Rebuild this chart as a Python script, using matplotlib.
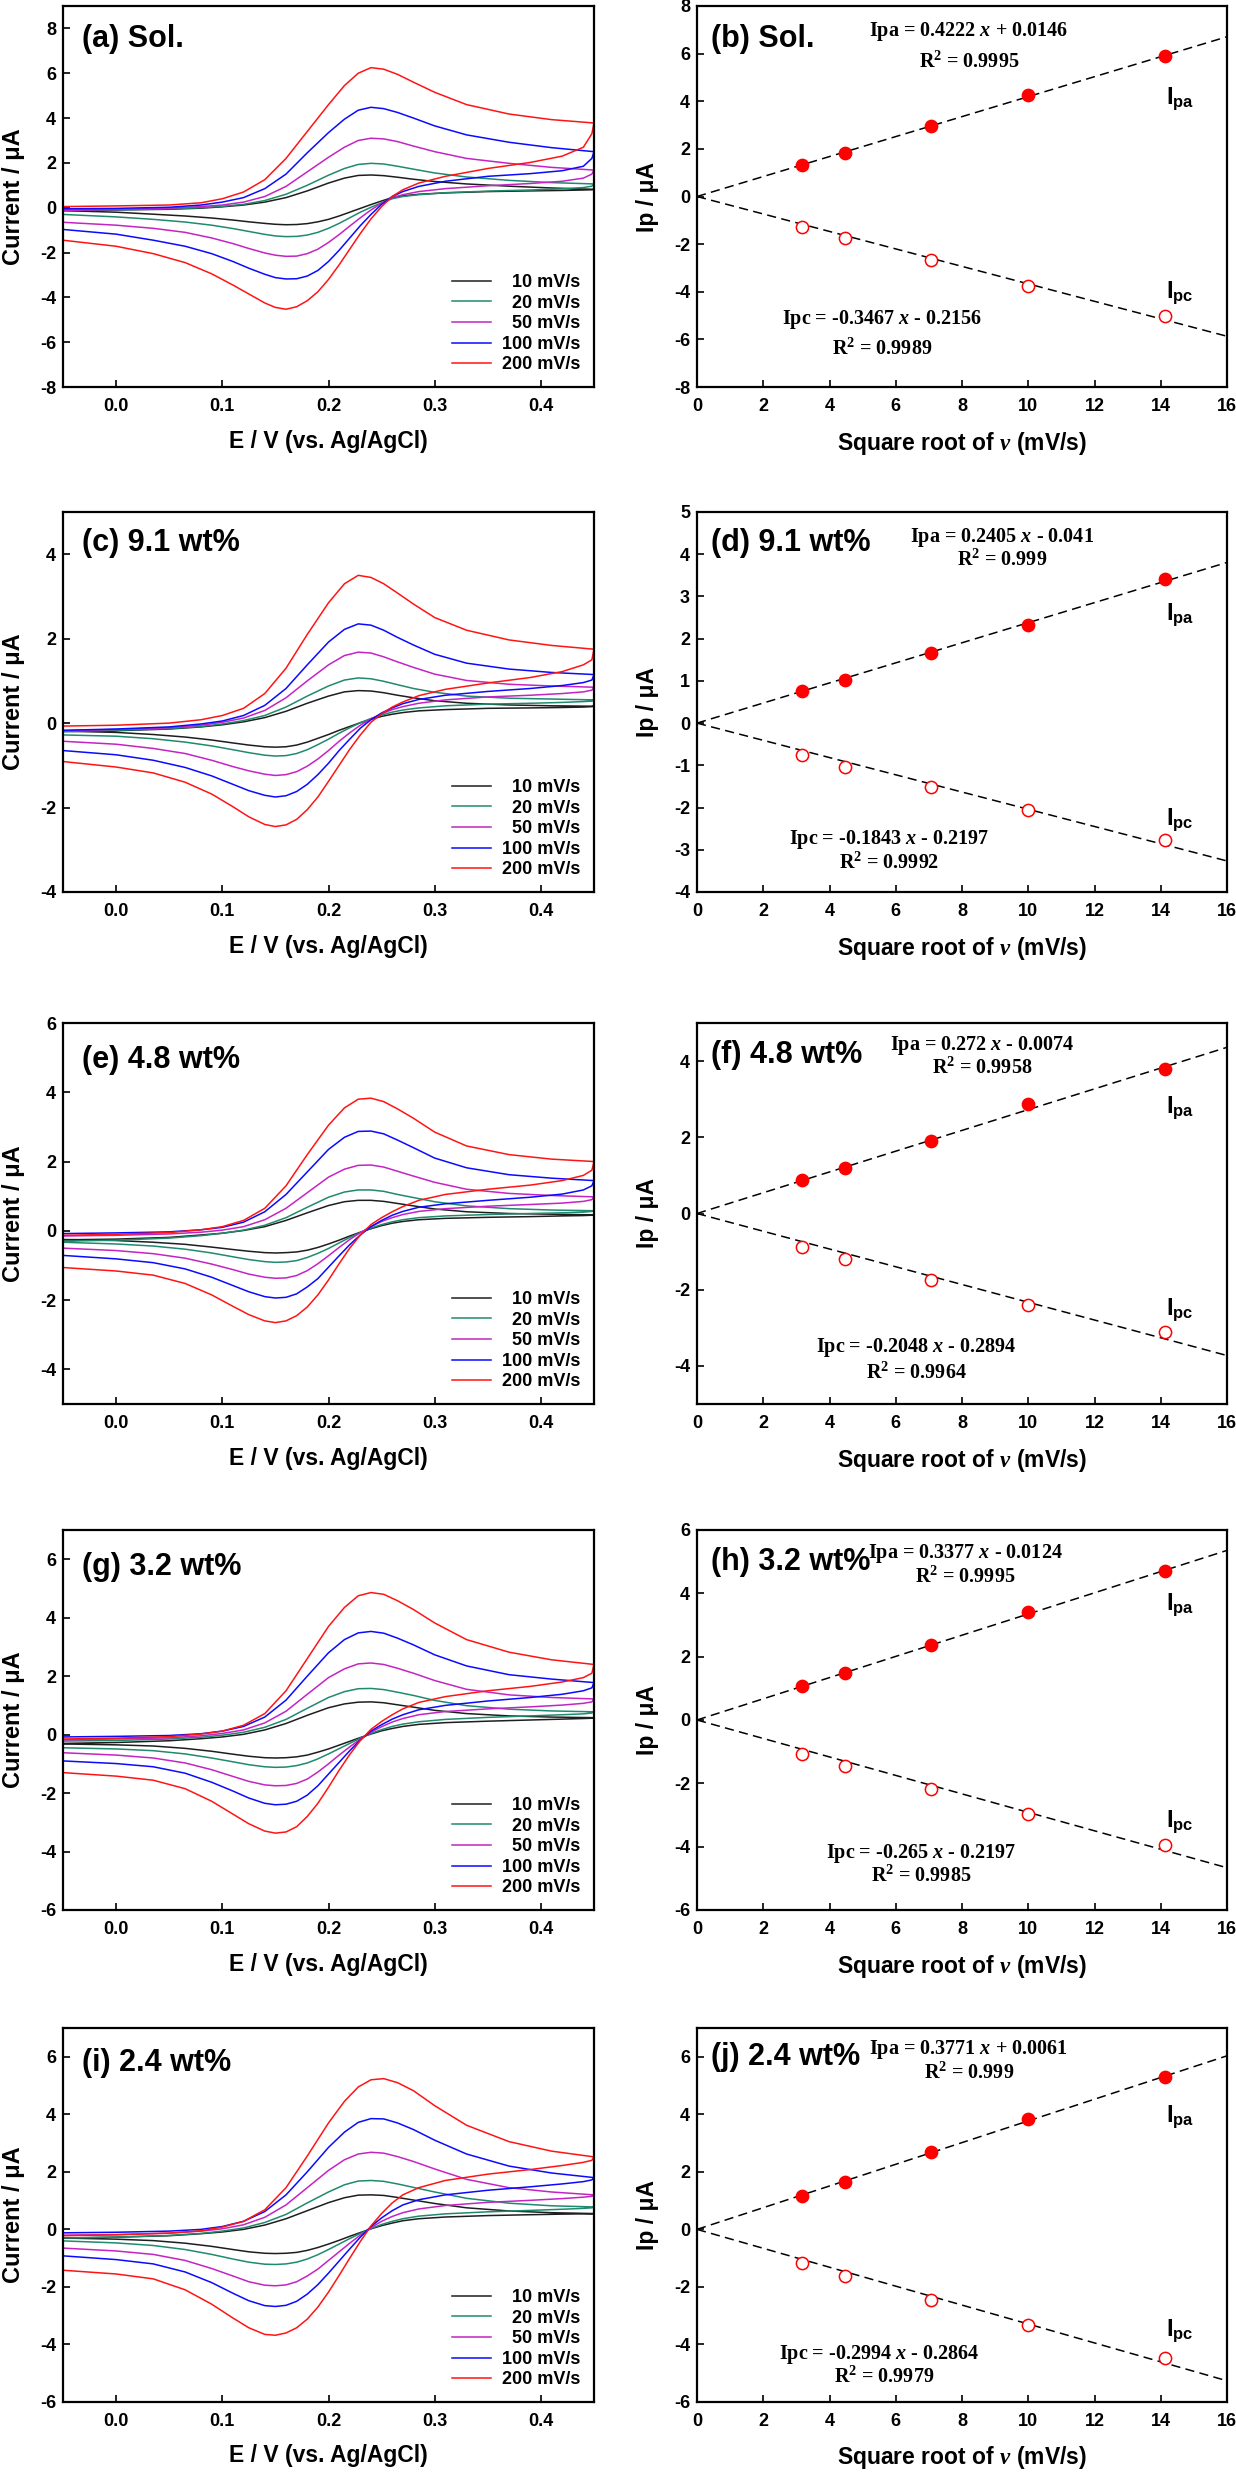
import matplotlib
matplotlib.use("Agg")
import matplotlib.pyplot as plt
from matplotlib.ticker import FormatStrFormatter
import numpy as np

plt.rcParams['font.family'] = ['Liberation Sans', 'DejaVu Sans']
plt.rcParams['font.weight'] = 'bold'
plt.rcParams['axes.unicode_minus'] = False
plt.rcParams['mathtext.fontset'] = 'custom'
plt.rcParams['mathtext.bf'] = 'Liberation Sans:bold'
plt.rcParams['mathtext.it'] = 'Liberation Serif:italic:bold'
plt.rcParams['mathtext.rm'] = 'Liberation Serif:bold'

# ---------------- data ----------------
RATES = [10, 20, 50, 100, 200]
RATE_LABELS = ["  10 mV/s", "  20 mV/s", "  50 mV/s", "100 mV/s", "200 mV/s"]
COLORS = ['#1e1e1e', '#1f8a6e', '#c424c4', '#0a0aff', '#ff1414']

# potentials of the forward (anodic) and reverse (cathodic) sweeps
E_FWD = [-0.05, 0.00, 0.05, 0.08, 0.10, 0.12, 0.14, 0.16, 0.18, 0.20, 0.215,
         0.228, 0.24, 0.252, 0.265, 0.28, 0.30, 0.33, 0.37, 0.41, 0.45]
E_REV = [0.45, 0.448, 0.44, 0.42, 0.39, 0.35, 0.31, 0.285, 0.27, 0.26, 0.25,
         0.24, 0.23, 0.22, 0.21, 0.20, 0.19, 0.18, 0.17, 0.16, 0.15, 0.14,
         0.125, 0.11, 0.09, 0.065, 0.035, 0.00, -0.05]

# (a) Sol.   rows: 10, 20, 50, 100, 200 mV/s
A_FWD = [
    [-0.12, -0.10, -0.07, -0.02, 0.04, 0.12, 0.25, 0.45, 0.75, 1.10, 1.32, 1.44, 1.46, 1.43, 1.36, 1.27, 1.17, 1.06, 0.96, 0.88, 0.82],
    [-0.12, -0.09, -0.05, 0.00, 0.06, 0.15, 0.32, 0.60, 1.00, 1.45, 1.75, 1.93, 1.98, 1.95, 1.85, 1.72, 1.55, 1.37, 1.22, 1.12, 1.06],
    [-0.12, -0.08, -0.02, 0.05, 0.12, 0.25, 0.50, 0.95, 1.60, 2.25, 2.70, 3.00, 3.10, 3.07, 2.95, 2.75, 2.50, 2.20, 1.98, 1.80, 1.68],
    [-0.05, -0.03, 0.02, 0.12, 0.25, 0.45, 0.85, 1.50, 2.45, 3.35, 3.95, 4.35, 4.48, 4.42, 4.25, 4.00, 3.65, 3.25, 2.92, 2.68, 2.50],
    [0.05, 0.08, 0.12, 0.22, 0.40, 0.70, 1.25, 2.20, 3.40, 4.60, 5.45, 6.00, 6.25, 6.18, 5.95, 5.60, 5.15, 4.60, 4.18, 3.93, 3.78],
]
A_REV = [
    [0.82, 0.80, 0.79, 0.77, 0.75, 0.72, 0.66, 0.60, 0.53, 0.45, 0.30, 0.14, -0.03, -0.20, -0.37, -0.52, -0.63, -0.71, -0.75, -0.76, -0.74, -0.70, -0.63, -0.55, -0.46, -0.37, -0.29, -0.20, -0.13],
    [1.06, 0.96, 0.90, 0.84, 0.79, 0.74, 0.67, 0.58, 0.50, 0.40, 0.22, 0.02, -0.20, -0.45, -0.70, -0.92, -1.10, -1.22, -1.28, -1.29, -1.26, -1.19, -1.06, -0.93, -0.78, -0.64, -0.52, -0.41, -0.30],
    [1.68, 1.50, 1.32, 1.18, 1.08, 0.98, 0.85, 0.72, 0.58, 0.45, 0.20, -0.10, -0.45, -0.82, -1.20, -1.55, -1.85, -2.05, -2.16, -2.17, -2.12, -2.02, -1.82, -1.60, -1.35, -1.10, -0.92, -0.78, -0.65],
    [2.50, 2.20, 1.85, 1.65, 1.52, 1.40, 1.18, 0.95, 0.72, 0.50, 0.15, -0.30, -0.80, -1.35, -1.90, -2.40, -2.80, -3.05, -3.17, -3.18, -3.12, -2.97, -2.70, -2.40, -2.05, -1.72, -1.45, -1.18, -0.97],
    [3.78, 3.30, 2.70, 2.30, 2.02, 1.75, 1.40, 1.10, 0.80, 0.50, 0.05, -0.50, -1.15, -1.85, -2.55, -3.20, -3.75, -4.15, -4.42, -4.53, -4.45, -4.25, -3.85, -3.45, -2.95, -2.45, -2.05, -1.72, -1.45],
]

# (c) 9.1 wt%
C_FWD = [
    [-0.20, -0.18, -0.14, -0.09, -0.04, 0.03, 0.13, 0.28, 0.47, 0.64, 0.74, 0.77, 0.76, 0.72, 0.66, 0.60, 0.53, 0.47, 0.43, 0.41, 0.40],
    [-0.20, -0.17, -0.13, -0.08, -0.02, 0.06, 0.18, 0.38, 0.64, 0.88, 1.02, 1.07, 1.05, 0.99, 0.91, 0.82, 0.73, 0.64, 0.59, 0.57, 0.55],
    [-0.18, -0.15, -0.11, -0.05, 0.02, 0.12, 0.30, 0.60, 1.00, 1.38, 1.60, 1.68, 1.66, 1.57, 1.45, 1.32, 1.16, 1.01, 0.92, 0.88, 0.85],
    [-0.17, -0.14, -0.09, -0.02, 0.05, 0.18, 0.42, 0.82, 1.38, 1.92, 2.22, 2.35, 2.32, 2.20, 2.03, 1.85, 1.63, 1.42, 1.28, 1.20, 1.15],
    [-0.07, -0.05, 0.00, 0.08, 0.18, 0.35, 0.70, 1.30, 2.10, 2.85, 3.30, 3.50, 3.45, 3.30, 3.08, 2.82, 2.50, 2.20, 1.97, 1.84, 1.75],
]
C_REV = [
    [0.40, 0.39, 0.38, 0.37, 0.36, 0.35, 0.32, 0.29, 0.25, 0.21, 0.16, 0.09, 0.01, -0.08, -0.17, -0.27, -0.36, -0.45, -0.52, -0.56, -0.57, -0.56, -0.52, -0.47, -0.40, -0.33, -0.27, -0.22, -0.19],
    [0.55, 0.52, 0.51, 0.49, 0.47, 0.45, 0.41, 0.36, 0.31, 0.26, 0.19, 0.11, 0.01, -0.11, -0.24, -0.38, -0.51, -0.63, -0.72, -0.77, -0.78, -0.76, -0.70, -0.63, -0.54, -0.45, -0.37, -0.31, -0.28],
    [0.85, 0.78, 0.74, 0.70, 0.66, 0.62, 0.55, 0.47, 0.39, 0.32, 0.22, 0.10, -0.05, -0.23, -0.43, -0.65, -0.85, -1.02, -1.15, -1.22, -1.24, -1.21, -1.13, -1.03, -0.88, -0.72, -0.60, -0.50, -0.43],
    [1.15, 1.02, 0.96, 0.89, 0.82, 0.75, 0.66, 0.56, 0.46, 0.36, 0.24, 0.08, -0.12, -0.38, -0.65, -0.95, -1.22, -1.45, -1.62, -1.72, -1.75, -1.71, -1.60, -1.45, -1.25, -1.05, -0.88, -0.75, -0.65],
    [1.75, 1.50, 1.38, 1.22, 1.08, 0.95, 0.80, 0.65, 0.50, 0.38, 0.22, 0.02, -0.28, -0.62, -1.00, -1.38, -1.75, -2.05, -2.28, -2.41, -2.45, -2.40, -2.22, -1.98, -1.68, -1.40, -1.18, -1.04, -0.91],
]

# (e) 4.8 wt%
E48_FWD = [
    [-0.26, -0.24, -0.19, -0.12, -0.07, 0.01, 0.12, 0.30, 0.52, 0.73, 0.84, 0.88, 0.88, 0.85, 0.79, 0.72, 0.63, 0.55, 0.50, 0.48, 0.46],
    [-0.30, -0.27, -0.21, -0.14, -0.07, 0.02, 0.16, 0.38, 0.68, 0.97, 1.12, 1.18, 1.18, 1.14, 1.05, 0.96, 0.84, 0.72, 0.64, 0.60, 0.58],
    [-0.15, -0.13, -0.09, -0.04, 0.02, 0.12, 0.32, 0.65, 1.10, 1.55, 1.78, 1.89, 1.90, 1.84, 1.72, 1.58, 1.40, 1.20, 1.08, 1.02, 0.98],
    [-0.08, -0.06, -0.03, 0.03, 0.10, 0.25, 0.55, 1.05, 1.70, 2.35, 2.70, 2.87, 2.88, 2.80, 2.62, 2.40, 2.10, 1.82, 1.62, 1.52, 1.45],
    [-0.13, -0.10, -0.05, 0.03, 0.12, 0.30, 0.65, 1.30, 2.20, 3.05, 3.55, 3.80, 3.83, 3.73, 3.52, 3.25, 2.85, 2.45, 2.20, 2.07, 2.00],
]
E48_REV = [
    [0.46, 0.45, 0.44, 0.43, 0.41, 0.39, 0.36, 0.32, 0.27, 0.22, 0.15, 0.06, -0.04, -0.15, -0.27, -0.38, -0.48, -0.56, -0.61, -0.63, -0.64, -0.63, -0.59, -0.54, -0.47, -0.39, -0.33, -0.28, -0.25],
    [0.58, 0.56, 0.54, 0.52, 0.50, 0.47, 0.43, 0.38, 0.32, 0.26, 0.18, 0.08, -0.05, -0.19, -0.35, -0.51, -0.65, -0.77, -0.86, -0.90, -0.91, -0.89, -0.83, -0.75, -0.64, -0.53, -0.44, -0.38, -0.33],
    [0.98, 0.90, 0.85, 0.80, 0.76, 0.71, 0.64, 0.56, 0.47, 0.38, 0.27, 0.12, -0.05, -0.25, -0.48, -0.72, -0.95, -1.15, -1.29, -1.36, -1.37, -1.34, -1.25, -1.12, -0.96, -0.79, -0.66, -0.57, -0.50],
    [1.45, 1.30, 1.18, 1.06, 0.97, 0.88, 0.78, 0.68, 0.56, 0.45, 0.30, 0.12, -0.12, -0.40, -0.72, -1.05, -1.38, -1.62, -1.82, -1.92, -1.94, -1.90, -1.76, -1.58, -1.34, -1.10, -0.92, -0.81, -0.71],
    [2.00, 1.75, 1.60, 1.45, 1.32, 1.20, 1.05, 0.88, 0.70, 0.55, 0.38, 0.18, -0.12, -0.50, -0.95, -1.42, -1.85, -2.20, -2.45, -2.60, -2.65, -2.60, -2.42, -2.18, -1.85, -1.52, -1.28, -1.16, -1.06],
]

# (g) 3.2 wt%
G_FWD = [
    [-0.30, -0.27, -0.21, -0.14, -0.08, 0.01, 0.16, 0.38, 0.66, 0.92, 1.05, 1.11, 1.12, 1.09, 1.02, 0.94, 0.83, 0.72, 0.64, 0.60, 0.58],
    [-0.22, -0.20, -0.15, -0.09, -0.02, 0.08, 0.25, 0.52, 0.90, 1.27, 1.47, 1.57, 1.58, 1.54, 1.45, 1.34, 1.17, 0.99, 0.87, 0.81, 0.78],
    [-0.18, -0.15, -0.11, -0.04, 0.04, 0.16, 0.40, 0.80, 1.38, 1.95, 2.25, 2.42, 2.45, 2.40, 2.27, 2.10, 1.85, 1.55, 1.36, 1.27, 1.22],
    [-0.08, -0.06, -0.03, 0.03, 0.12, 0.28, 0.60, 1.18, 2.00, 2.80, 3.25, 3.48, 3.53, 3.47, 3.30, 3.07, 2.73, 2.35, 2.05, 1.90, 1.78],
    [-0.15, -0.12, -0.07, 0.02, 0.12, 0.32, 0.72, 1.50, 2.60, 3.70, 4.35, 4.75, 4.86, 4.80, 4.58, 4.28, 3.82, 3.25, 2.82, 2.56, 2.40],
]
G_REV = [
    [0.58, 0.56, 0.55, 0.53, 0.50, 0.46, 0.41, 0.35, 0.28, 0.21, 0.13, 0.02, -0.10, -0.23, -0.36, -0.49, -0.60, -0.70, -0.76, -0.79, -0.80, -0.79, -0.74, -0.67, -0.57, -0.47, -0.39, -0.35, -0.32],
    [0.78, 0.74, 0.71, 0.68, 0.64, 0.59, 0.52, 0.44, 0.36, 0.28, 0.17, 0.04, -0.12, -0.30, -0.48, -0.66, -0.83, -0.97, -1.06, -1.11, -1.12, -1.10, -1.03, -0.93, -0.80, -0.66, -0.55, -0.49, -0.45],
    [1.22, 1.12, 1.07, 1.01, 0.95, 0.88, 0.79, 0.68, 0.55, 0.43, 0.27, 0.08, -0.15, -0.42, -0.70, -1.00, -1.28, -1.52, -1.67, -1.74, -1.75, -1.72, -1.60, -1.43, -1.20, -0.97, -0.80, -0.70, -0.62],
    [1.78, 1.60, 1.50, 1.38, 1.27, 1.15, 1.00, 0.85, 0.68, 0.53, 0.34, 0.12, -0.18, -0.55, -0.95, -1.35, -1.75, -2.07, -2.28, -2.38, -2.40, -2.35, -2.17, -1.93, -1.63, -1.32, -1.10, -0.99, -0.90],
    [2.40, 2.10, 1.95, 1.80, 1.65, 1.50, 1.30, 1.10, 0.88, 0.68, 0.45, 0.18, -0.20, -0.68, -1.22, -1.80, -2.35, -2.80, -3.15, -3.33, -3.37, -3.30, -3.05, -2.72, -2.28, -1.85, -1.56, -1.42, -1.30],
]

# (i) 2.4 wt%
I_FWD = [
    [-0.30, -0.27, -0.22, -0.15, -0.09, 0.00, 0.15, 0.37, 0.65, 0.93, 1.10, 1.19, 1.20, 1.18, 1.11, 1.02, 0.90, 0.75, 0.64, 0.58, 0.55],
    [-0.30, -0.27, -0.21, -0.14, -0.06, 0.05, 0.24, 0.52, 0.92, 1.30, 1.55, 1.68, 1.70, 1.67, 1.58, 1.46, 1.30, 1.08, 0.91, 0.82, 0.78],
    [-0.20, -0.18, -0.13, -0.06, 0.02, 0.16, 0.42, 0.85, 1.45, 2.05, 2.42, 2.62, 2.68, 2.65, 2.53, 2.36, 2.10, 1.74, 1.45, 1.30, 1.20],
    [-0.12, -0.10, -0.06, 0.00, 0.10, 0.28, 0.62, 1.20, 2.00, 2.85, 3.38, 3.72, 3.85, 3.84, 3.70, 3.47, 3.10, 2.62, 2.20, 1.96, 1.80],
    [-0.22, -0.19, -0.13, -0.05, 0.08, 0.28, 0.68, 1.45, 2.55, 3.70, 4.45, 4.95, 5.20, 5.24, 5.10, 4.82, 4.30, 3.62, 3.05, 2.72, 2.52],
]
I_REV = [
    [0.55, 0.54, 0.54, 0.53, 0.51, 0.48, 0.43, 0.37, 0.30, 0.22, 0.13, 0.02, -0.11, -0.24, -0.38, -0.51, -0.63, -0.73, -0.80, -0.83, -0.84, -0.83, -0.78, -0.70, -0.59, -0.48, -0.39, -0.34, -0.30],
    [0.78, 0.75, 0.73, 0.70, 0.66, 0.61, 0.54, 0.46, 0.37, 0.28, 0.17, 0.03, -0.14, -0.32, -0.51, -0.70, -0.88, -1.03, -1.14, -1.20, -1.22, -1.21, -1.14, -1.03, -0.87, -0.70, -0.56, -0.47, -0.40],
    [1.20, 1.15, 1.12, 1.07, 1.01, 0.94, 0.83, 0.71, 0.58, 0.45, 0.28, 0.06, -0.20, -0.48, -0.78, -1.08, -1.38, -1.62, -1.82, -1.93, -1.96, -1.94, -1.82, -1.62, -1.36, -1.08, -0.87, -0.75, -0.65],
    [1.80, 1.72, 1.66, 1.58, 1.48, 1.36, 1.20, 1.03, 0.85, 0.65, 0.40, 0.10, -0.27, -0.68, -1.10, -1.52, -1.92, -2.25, -2.50, -2.64, -2.68, -2.65, -2.48, -2.22, -1.85, -1.48, -1.20, -1.05, -0.92],
    [2.52, 2.40, 2.33, 2.22, 2.08, 1.92, 1.70, 1.45, 1.20, 0.92, 0.55, 0.12, -0.42, -1.00, -1.60, -2.18, -2.70, -3.12, -3.42, -3.60, -3.68, -3.65, -3.42, -3.08, -2.60, -2.10, -1.72, -1.55, -1.42],
]

# peak currents vs square root of scan rate
IPA_B = [1.32, 1.83, 2.96, 4.26, 5.90]
IPC_B = [-1.27, -1.76, -2.67, -3.75, -5.03]
IPA_D = [0.77, 1.03, 1.67, 2.33, 3.41]
IPC_D = [-0.75, -1.03, -1.52, -2.05, -2.78]
IPA_F = [0.87, 1.19, 1.89, 2.87, 3.78]
IPC_F = [-0.89, -1.19, -1.75, -2.39, -3.12]
IPA_H = [1.06, 1.48, 2.37, 3.40, 4.70]
IPC_H = [-1.06, -1.44, -2.18, -2.96, -3.96]
IPA_J = [1.16, 1.66, 2.69, 3.85, 5.28]
IPC_J = [-1.18, -1.62, -2.46, -3.34, -4.47]

# fit equations printed on the plots
EQ_B = ["Ipa = 0.4222 $x$ + 0.0146", "R$^2$ = 0.9995", "Ipc = -0.3467 $x$ - 0.2156", "R$^2$ = 0.9989"]
EQ_D = ["Ipa = 0.2405 $x$ - 0.041", "R$^2$ = 0.999", "Ipc = -0.1843 $x$ - 0.2197", "R$^2$ = 0.9992"]
EQ_F = ["Ipa = 0.272 $x$ - 0.0074", "R$^2$ = 0.9958", "Ipc = -0.2048 $x$ - 0.2894", "R$^2$ = 0.9964"]
EQ_H = ["Ipa = 0.3377 $x$ - 0.0124", "R$^2$ = 0.9995", "Ipc = -0.265 $x$ - 0.2197", "R$^2$ = 0.9985"]
EQ_J = ["Ipa = 0.3771 $x$ + 0.0061", "R$^2$ = 0.999", "Ipc = -0.2994 $x$ - 0.2864", "R$^2$ = 0.9979"]

CV_TITLES = ["(a) Sol.", "(c) 9.1 wt%", "(e) 4.8 wt%", "(g) 3.2 wt%", "(i) 2.4 wt%"]
FIT_TITLES = ["(b) Sol.", "(d) 9.1 wt%", "(f) 4.8 wt%", "(h) 3.2 wt%", "(j) 2.4 wt%"]

# ---------------- layout ----------------
W, H = 1236, 2480
ROWS = [(6, 387), (512, 892), (1023, 1404), (1530, 1910), (2028, 2402)]
LEFT_X = (63, 594)
RIGHT_X = (697, 1227)

CV_YLIM = [(-8, 9), (-4, 5), (-5, 6), (-6, 7), (-6, 7)]
CV_YTICKS = [range(-8, 9, 2), range(-4, 5, 2), range(-4, 7, 2), range(-6, 7, 2), range(-6, 7, 2)]
FIT_YLIM = [(-8, 8), (-4, 5), (-5, 5), (-6, 6), (-6, 7)]
FIT_YTICKS = [range(-8, 9, 2), range(-4, 6, 1), range(-4, 5, 2), range(-6, 7, 2), range(-6, 7, 2)]

CV_TITLE_Y = [0.913, 0.918, 0.903, 0.903, 0.906]
FIT_TITLE_Y = [0.913, 0.918, 0.916, 0.916, 0.922]
EQ_POS = [
    [(0.513, 0.932), (0.513, 0.853), (0.349, 0.178), (0.349, 0.100)],
    [(0.575, 0.934), (0.575, 0.874), (0.362, 0.139), (0.362, 0.076)],
    [(0.538, 0.940), (0.538, 0.882), (0.413, 0.147), (0.413, 0.081)],
    [(0.506, 0.937), (0.506, 0.877), (0.423, 0.149), (0.423, 0.089)],
    [(0.512, 0.942), (0.513, 0.880), (0.344, 0.128), (0.353, 0.067)],
]
IPA_LBL_Y = [0.769, 0.742, 0.790, 0.816, 0.776]
IPC_LBL_Y = [0.262, 0.203, 0.260, 0.245, 0.203]


def box(xr, yr):
    x0, x1 = xr
    y0, y1 = yr
    return [x0 / W, 1 - y1 / H, (x1 - x0) / W, (y1 - y0) / H]


def style(ax):
    for s in ax.spines.values():
        s.set_linewidth(1.6)
    ax.tick_params(direction='in', length=5, width=1.2, labelsize=13,
                   top=False, right=False)
    ax.tick_params(axis='x', pad=8)
    ax.tick_params(axis='y', pad=5)


fig = plt.figure(figsize=(W / 100, H / 100), dpi=100)

cv_sets = [(A_FWD, A_REV), (C_FWD, C_REV), (E48_FWD, E48_REV), (G_FWD, G_REV), (I_FWD, I_REV)]
fit_sets = [(IPA_B, IPC_B, EQ_B), (IPA_D, IPC_D, EQ_D), (IPA_F, IPC_F, EQ_F),
            (IPA_H, IPC_H, EQ_H), (IPA_J, IPC_J, EQ_J)]

sqrt_v = np.sqrt(RATES)

for r, yr in enumerate(ROWS):
    # ---- cyclic voltammograms ----
    ax = fig.add_axes(box(LEFT_X, yr))
    fwd, rev = cv_sets[r]
    for k in range(len(RATES)):
        ax.plot(E_FWD + E_REV, fwd[k] + rev[k], color=COLORS[k], lw=1.1,
                label=RATE_LABELS[k])
    ax.set_xlim(-0.05, 0.45)
    ax.set_ylim(*CV_YLIM[r])
    ax.set_xticks([0.0, 0.1, 0.2, 0.3, 0.4])
    ax.set_yticks(list(CV_YTICKS[r]))
    ax.xaxis.set_major_formatter(FormatStrFormatter('%.1f'))
    ax.yaxis.set_major_formatter(FormatStrFormatter('%d'))
    style(ax)
    ax.set_xlabel("E / V (vs. Ag/AgCl)", fontsize=16.5, fontweight='bold')
    ax.set_ylabel("Current / \u03bcA", fontsize=17, fontweight='bold')
    ax.xaxis.set_label_coords(0.5, -0.112)
    ax.yaxis.set_label_coords(-0.072, 0.5)
    ax.text(0.036, CV_TITLE_Y[r], CV_TITLES[r], transform=ax.transAxes,
            fontsize=22, fontweight='bold', va='center', ha='left')
    ax.legend(loc='lower right', frameon=False, fontsize=13,
              handlelength=2.2, handletextpad=0.6, labelspacing=0.2,
              borderaxespad=0.45, borderpad=0.3)

    # ---- peak current vs sqrt(v) ----
    ax2 = fig.add_axes(box(RIGHT_X, yr))
    ipa, ipc, eq = fit_sets[r]
    xl = np.array([0.0, 16.0])
    for ip, face in ((ipa, 'red'), (ipc, 'white')):
        ip = np.asarray(ip)
        k_fit = np.sum(sqrt_v * ip) / np.sum(sqrt_v ** 2)
        ax2.plot(xl, k_fit * xl, color='black', lw=1.1, dashes=(6, 3.5), zorder=2)
        ax2.plot(sqrt_v, ip, 'o', ms=8.8, mfc=face, mec='red', mew=1.1, zorder=3)
    ax2.set_xlim(0, 16)
    ax2.set_ylim(*FIT_YLIM[r])
    ax2.set_xticks(range(0, 17, 2))
    ax2.set_yticks(list(FIT_YTICKS[r]))
    style(ax2)
    ax2.set_xlabel("Square root of $\\mathit{v}$ (mV/s)", fontsize=16.5, fontweight='bold')
    ax2.set_ylabel("Ip / \u03bcA", fontsize=16.5, fontweight='bold')
    ax2.xaxis.set_label_coords(0.5, -0.112)
    ax2.yaxis.set_label_coords(-0.072, 0.5)
    ax2.text(0.027, FIT_TITLE_Y[r], FIT_TITLES[r], transform=ax2.transAxes,
             fontsize=22, fontweight='bold', va='center', ha='left')
    for txt, (px, py) in zip(eq, EQ_POS[r]):
        ax2.text(px, py, txt, transform=ax2.transAxes, fontsize=14.5,
                 family='Liberation Serif', fontweight='bold',
                 ha='center', va='center')
    ax2.text(0.885, IPA_LBL_Y[r] - 0.015, r'$\mathbf{I_{pa}}$', transform=ax2.transAxes,
             fontsize=17, ha='left', va='center')
    ax2.text(0.885, IPC_LBL_Y[r] - 0.015, r'$\mathbf{I_{pc}}$', transform=ax2.transAxes,
             fontsize=17, ha='left', va='center')

fig.savefig("out.png", dpi=100)
